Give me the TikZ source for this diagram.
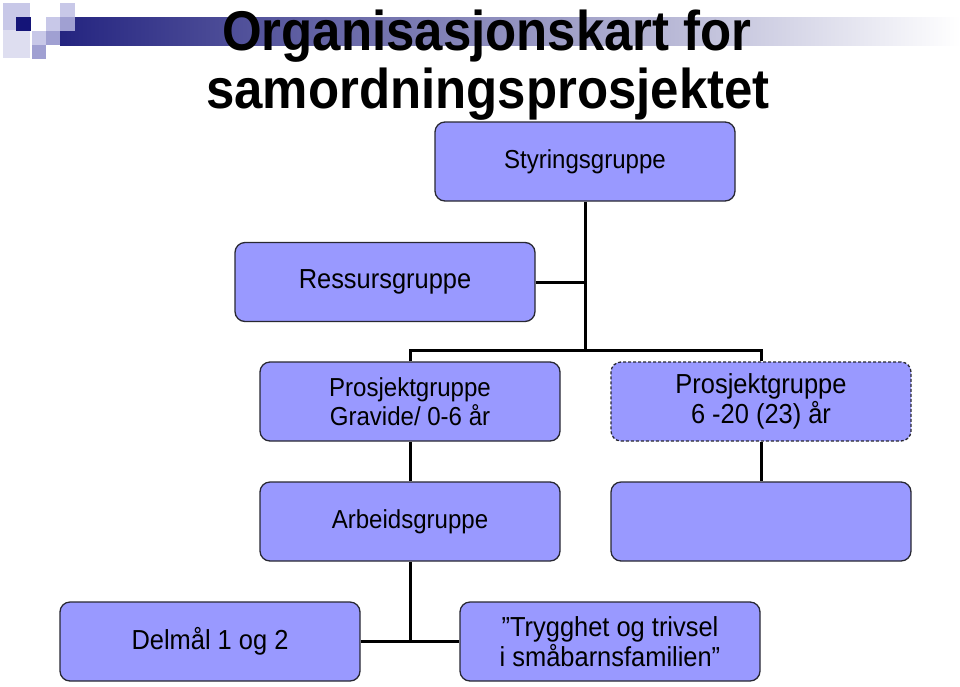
\documentclass[tikz,border=0pt]{standalone}
\usepackage{fontspec}
\setmainfont{Liberation Sans}
\newfontfamily\tallfont[FakeStretch=0.925]{Liberation Sans}
\newfontfamily\titlefont[FakeStretch=0.91]{Liberation Sans}
\definecolor{boxfill}{RGB}{153,153,255}
\definecolor{boxline}{RGB}{40,40,50}
\definecolor{navyd}{RGB}{36,36,128}
\definecolor{lav1}{RGB}{222,222,240}
\definecolor{lav2}{RGB}{200,200,232}
\definecolor{lav3}{RGB}{160,160,210}
\definecolor{navyq}{RGB}{20,20,120}
\tikzset{
  orgbox/.style={draw=boxline, line width=1.3pt, fill=boxfill, rounded corners=10pt,
    minimum width=300pt, minimum height=79pt, inner sep=0pt, align=center, text=black},
  dashbox/.style={orgbox, dashed, dash pattern=on 3pt off 2pt},
  txtA/.style={font=\tallfont\fontsize{26}{29}\selectfont},
  txtB/.style={font=\tallfont\fontsize{27.5}{30}\selectfont},
  link/.style={draw=black, line width=3pt},
  titletxt/.style={font=\titlefont\fontsize{56}{59}\selectfont\bfseries, inner sep=0pt, anchor=base}
}
\begin{document}
\begin{tikzpicture}[x=1pt,y=-1pt]
\useasboundingbox (0,0) rectangle (960,686);
% decoration
\shade[left color=navyd, right color=white] (60,17) rectangle (960,45);
\fill[lav1] (3,3) rectangle (30,58);
\fill[lav2] (3,3) rectangle (30,30);
\fill[navyq] (16,17) rectangle (31,31);
\fill[lav2] (32,31) rectangle (46,45);
\fill[lav3] (32,45) rectangle (46,59);
\fill[lav2] (46,17) rectangle (60,31);
\fill[lav3] (46,31) rectangle (60,45);
\fill[lav2] (60,3) rectangle (75,17);
\fill[lav3] (60,17) rectangle (75,31);
% title
\node[titletxt] (title1) at (487,50) {Organisasjonskart for};
\node[titletxt] (title2) at (488,108) {samordningsprosjektet};
% boxes
\node[orgbox, txtA] (sty) at (585,161.5) {Styringsgruppe};
\node[orgbox, txtB] (res) at (385,282) {Ressursgruppe};
\node[orgbox, txtA] (pg1) at (410,401.5) {Prosjektgruppe\\Gravide/ 0-6 år};
\node[dashbox, txtB] (pg2) at (761,401.5) {Prosjektgruppe\\6 -20 (23) år};
\node[orgbox, txtA] (arb) at (410,521.5) {Arbeidsgruppe};
\node[orgbox] (emp) at (761,521.5) {};
\node[orgbox, txtB] (del) at (210,641.5) {Delmål 1 og 2};
\node[orgbox, txtB] (try) at (610,641.5) {”Trygghet og trivsel\\i småbarnsfamilien”};
% connectors
\coordinate (j1) at (585,350);
\coordinate (j2) at (410,641.5);
\draw[link] (sty.south) -- (j1);
\draw[link] (res.east) -- (res.east -| sty.south);
\draw[link] (pg1.north) |- (j1) -| (pg2.north);
\draw[link] (pg1.south) -- (arb.north);
\draw[link] (pg2.south) -- (emp.north);
\draw[link] (arb.south) -- (j2);
\draw[link] (del.east) -- (try.west);
\end{tikzpicture}
\end{document}
